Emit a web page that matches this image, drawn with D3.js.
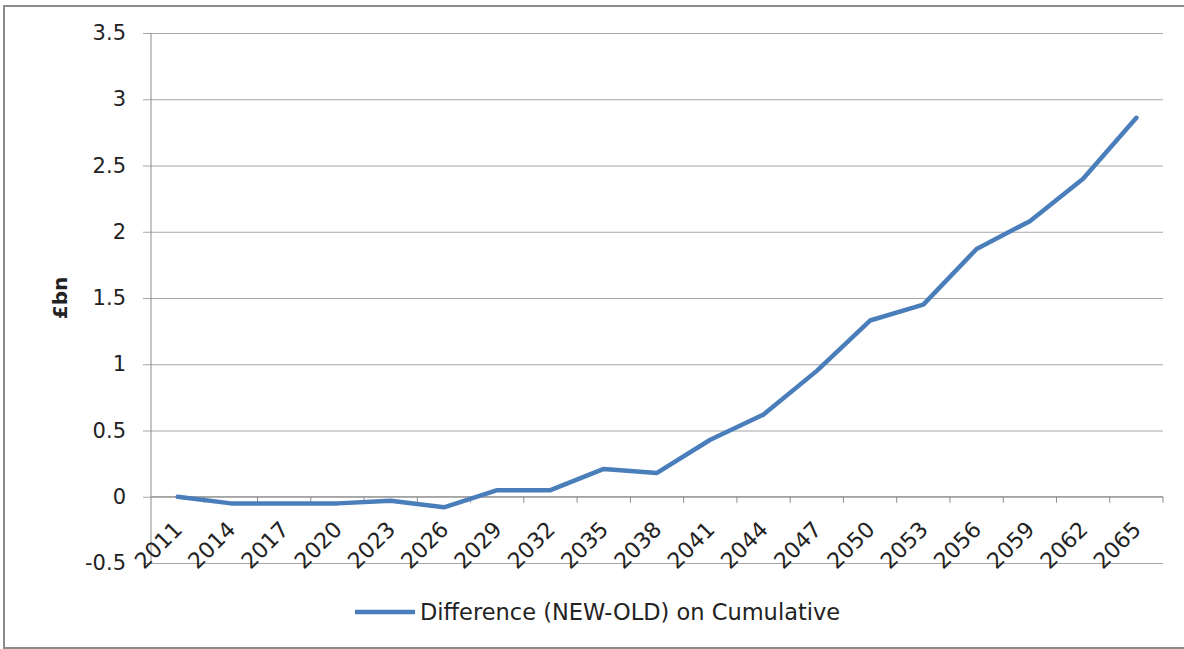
<!DOCTYPE html>
<html>
<head>
<meta charset="utf-8">
<script src="https://cdn.jsdelivr.net/npm/d3@7"></script>
<style>
  body { margin: 0; background: #fff; }
  text { font-family: "DejaVu Sans", "Noto Sans", sans-serif; fill: #222; }
</style>
</head>
<body>
<div id="chart"></div>
<script>
// years on the category axis
var years = ["2011","2014","2017","2020","2023","2026","2029","2032","2035","2038",
             "2041","2044","2047","2050","2053","2056","2059","2062","2065"];
// £bn
var diff = [0, -0.05, -0.05, -0.05, -0.03, -0.08, 0.05, 0.05, 0.21, 0.18,
            0.43, 0.62, 0.95, 1.33, 1.45, 1.87, 2.08, 2.40, 2.86];
var yTicks = [-0.5, 0, 0.5, 1, 1.5, 2, 2.5, 3, 3.5];
var seriesName = "Difference (NEW-OLD) on Cumulative";

var w = 1184, h = 649;
var mL = 151, mR = 1163, mT = 33, mB = 563;

var svg = d3.select("#chart").append("svg")
  .attr("width", w)
  .attr("height", h);

// outer frame
svg.append("rect")
  .attr("x", 4).attr("y", 6)
  .attr("width", 1190).attr("height", 642)
  .attr("fill", "none")
  .attr("stroke", "#8c8c8c")
  .attr("stroke-width", 2);

var x = d3.scaleBand().domain(years).range([mL, mR]);
var y = d3.scaleLinear().domain([-0.5, 3.5]).range([mB, mT]);

// gridlines + y labels (plain hyphen for the minus, like Excel)
var yAxis = svg.append("g")
  .attr("transform", "translate(" + mL + ",0)")
  .call(d3.axisLeft(y).tickValues(yTicks).tickSize(-(mR - mL)).tickPadding(25)
    .tickFormat(function(d) { return String(d); }));
yAxis.select(".domain").remove();
yAxis.selectAll(".tick line").attr("stroke", "#a6a6a6").attr("x1", -8);
yAxis.selectAll(".tick text").style("font-size", "21px").attr("fill", "#222");

// vertical axis line
svg.append("line")
  .attr("x1", mL).attr("x2", mL)
  .attr("y1", mT).attr("y2", mB)
  .attr("stroke", "#8c8c8c");

// category axis sitting on zero
var xAxis = svg.append("g")
  .attr("transform", "translate(0," + y(0) + ")");
xAxis.append("line")
  .attr("x1", mL).attr("x2", mR)
  .attr("stroke", "#8c8c8c");
xAxis.selectAll("line.tk")
  .data(years)
  .enter().append("line")
  .attr("class", "tk")
  .attr("x1", function(d) { return x(d) + x.bandwidth(); })
  .attr("x2", function(d) { return x(d) + x.bandwidth(); })
  .attr("y1", 0).attr("y2", 6)
  .attr("stroke", "#8c8c8c");
xAxis.selectAll("text")
  .data(years)
  .enter().append("text")
  .attr("text-anchor", "end")
  .attr("transform", function(d) {
    return "translate(" + (x(d) + x.bandwidth() / 2 + 6) + ",34) rotate(-45)";
  })
  .style("font-size", "22px")
  .text(function(d) { return d; });

// the series
var line = d3.line()
  .x(function(d, i) { return x(years[i]) + x.bandwidth() / 2; })
  .y(function(d) { return y(d); });

svg.append("path")
  .datum(diff)
  .attr("d", line)
  .attr("fill", "none")
  .attr("stroke", "#4a7ebb")
  .attr("stroke-width", 4.5)
  .attr("stroke-linejoin", "round")
  .attr("stroke-linecap", "round");

// y axis title
svg.append("text")
  .attr("transform", "translate(67,298) rotate(-90)")
  .attr("text-anchor", "middle")
  .style("font-size", "20px")
  .style("font-weight", "bold")
  .text("£bn");

// legend
var lg = svg.append("g").attr("transform", "translate(355,612)");
lg.append("line")
  .attr("x1", 0).attr("x2", 60)
  .attr("stroke", "#4a7ebb")
  .attr("stroke-width", 4.5);
lg.append("text")
  .attr("x", 65).attr("dy", "0.36em")
  .style("font-size", "22.5px")
  .text(seriesName);
</script>
</body>
</html>
